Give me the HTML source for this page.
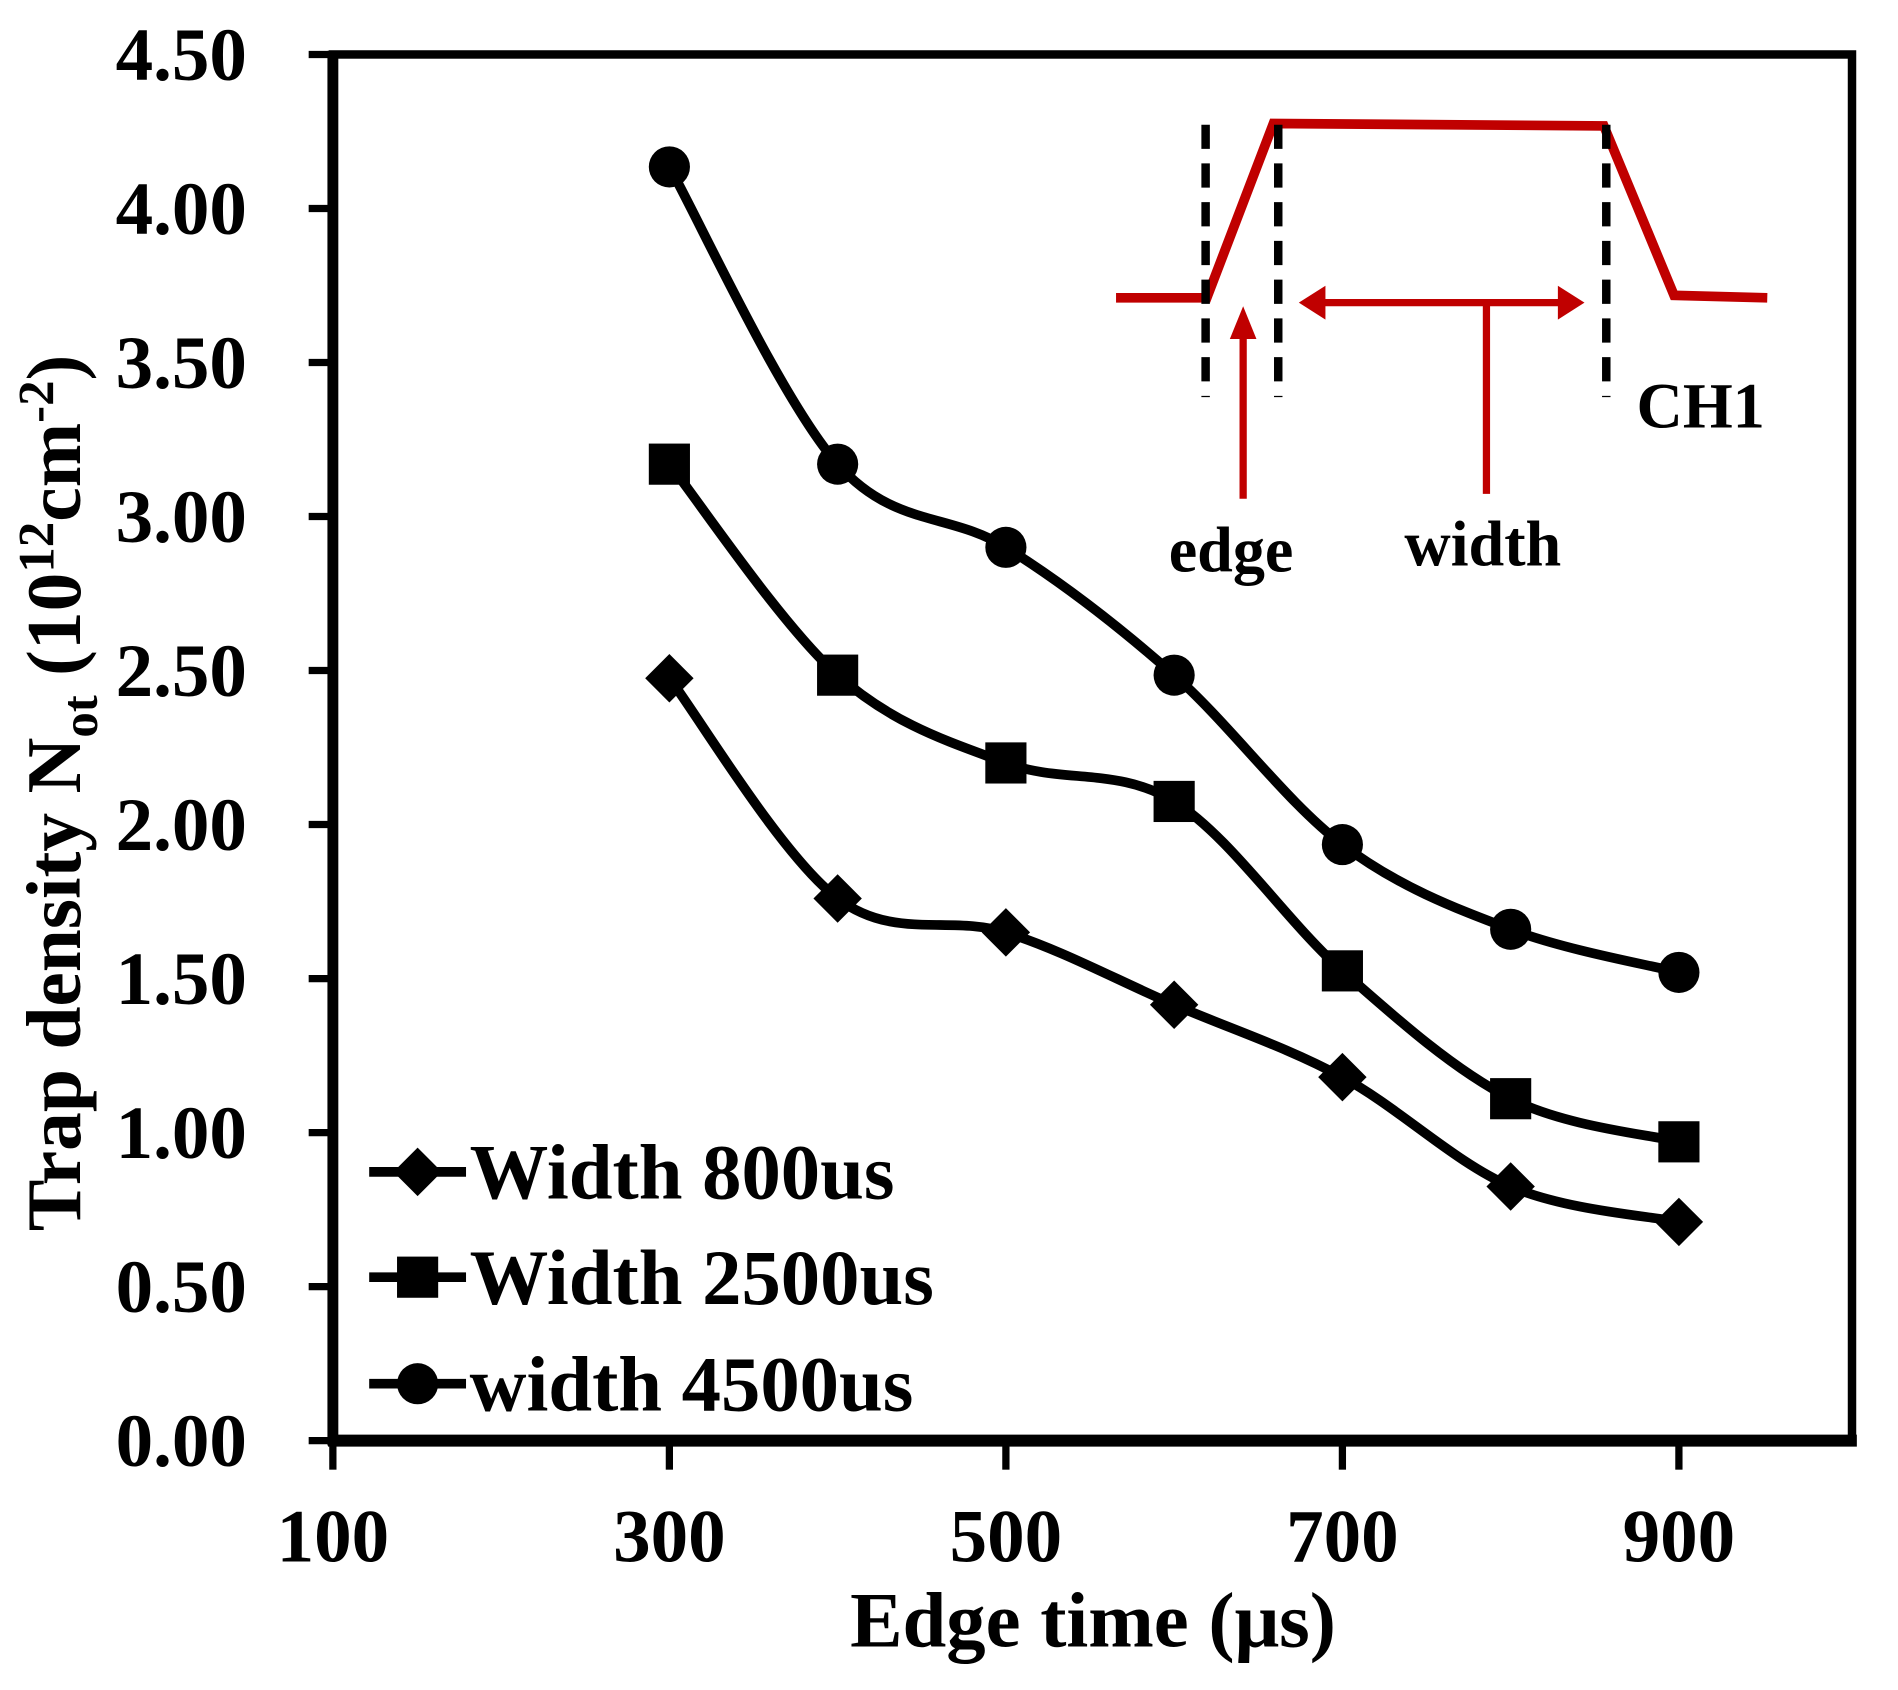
<!DOCTYPE html>
<html><head><meta charset="utf-8"><style>html,body{margin:0;padding:0;background:#fff}svg{display:block}text{font-family:"Liberation Serif",serif;font-weight:bold;fill:#000}</style></head>
<body>
<svg id="chart" width="1898" height="1690" viewBox="0 0 1568 1396" preserveAspectRatio="none" xmlns="http://www.w3.org/2000/svg">
<g id="inset">
<polyline points="922,246 997,246 1052,102 1325,104 1383,244 1460,246" fill="none" stroke="#c00000" stroke-width="8"/>
<line x1="996" y1="103" x2="996" y2="328" stroke="#000" stroke-width="7" stroke-dasharray="20,12"/>
<line x1="1056" y1="103" x2="1056" y2="328" stroke="#000" stroke-width="7" stroke-dasharray="20,12"/>
<line x1="1327" y1="103" x2="1327" y2="328" stroke="#000" stroke-width="7" stroke-dasharray="20,12"/>
<line x1="1090" y1="250" x2="1292" y2="250" stroke="#c00000" stroke-width="6"/>
<polygon points="1073,250 1095,236 1095,264" fill="#c00000"/>
<polygon points="1309,250 1287,236 1287,264" fill="#c00000"/>
<line x1="1228" y1="250" x2="1228" y2="408" stroke="#c00000" stroke-width="6"/>
<line x1="1027" y1="275" x2="1027" y2="412" stroke="#c00000" stroke-width="6"/>
<polygon points="1027,253 1016,280 1038,280" fill="#c00000"/>
<text x="1017" y="472" font-size="53" text-anchor="middle">edge</text>
<text x="1225" y="467" font-size="53" text-anchor="middle">width</text>
<text x="1352" y="353" font-size="53">CH1</text>
</g>
<g id="axes"></g>
<g id="series"></g>
<g id="legend"></g>
</svg>
<script>
const xValues = [300, 400, 500, 600, 700, 800, 900];
const series800 = [2.475, 1.76, 1.65, 1.415, 1.18, 0.825, 0.71];
const series2500 = [3.17, 2.485, 2.20, 2.075, 1.525, 1.11, 0.97];
const series4500 = [4.135, 3.17, 2.90, 2.485, 1.935, 1.66, 1.52];
const yTicks = [0, 0.5, 1, 1.5, 2, 2.5, 3, 3.5, 4, 4.5];
const yTickLabels = ["0.00","0.50","1.00","1.50","2.00","2.50","3.00","3.50","4.00","4.50"];
const xTicks = [100, 300, 500, 700, 900];
const xTickLabels = ["100","300","500","700","900"];
const seriesNames = ["Width 800us","Width 2500us","width 4500us"];

const NS = "http://www.w3.org/2000/svg";
const L = 275, R = 1530, T = 45, B = 1190;
function xs(v){ return L + (v - 100) / 800 * (1387 - L); }
function ys(v){ return B - v / 4.5 * (B - T); }
function mk(tag, attrs, parent){ const e = document.createElementNS(NS, tag); for (const k in attrs) e.setAttribute(k, attrs[k]); parent.appendChild(e); return e; }

const axes = document.getElementById('axes');
const frame = mk('rect', {x:L, y:T, width:R-L, height:B-T, fill:'none', stroke:'#000', 'stroke-width':7}, axes);


const lax = mk('line', {x1:L, y1:T-3, x2:L, y2:B+4, stroke:'#000', 'stroke-width':9}, axes);


const bax = mk('line', {x1:L-4, y1:B, x2:R+4, y2:B, stroke:'#000', 'stroke-width':10}, axes);


yTicks.forEach((v, i) => {
  const t = mk('line', {x1:L-20, y1:ys(v), x2:L, y2:ys(v), stroke:'#000', 'stroke-width':6}, axes);
  
  
  const tx = mk('text', {x:204, y:ys(v)+21, 'font-size':62, 'text-anchor':'end'}, axes);
  
  
  tx.textContent = yTickLabels[i];
});
xTicks.forEach((v, i) => {
  const t = mk('line', {x1:xs(v), y1:B, x2:xs(v), y2:B+24, stroke:'#000', 'stroke-width':6}, axes);
  
  
  const tx = mk('text', {x:xs(v), y:1290, 'font-size':62, 'text-anchor':'middle'}, axes);
  
  
  tx.textContent = xTickLabels[i];
});
const xt = mk('text', {x:903, y:1360, 'font-size':65, 'text-anchor':'middle'}, axes);


xt.textContent = 'Edge time (μs)';
const yt = mk('text', {x:0, y:0, 'font-size':64, 'text-anchor':'middle', transform:'translate(66,655) rotate(-90)'}, axes);


yt.innerHTML = 'Trap density N<tspan font-size="42" dy="14">ot</tspan><tspan dy="-14"> (10</tspan><tspan font-size="42" dy="-22">12</tspan><tspan dy="22">cm</tspan><tspan font-size="42" dy="-22">-2</tspan><tspan dy="22">)</tspan>';

function marker(type, cx, cy, parent){
  let m;
  if (type === 0) m = mk('polygon', {points:`${cx},${cy-20} ${cx+20},${cy} ${cx},${cy+20} ${cx-20},${cy}`, fill:'#000'}, parent);
  else if (type === 1) m = mk('rect', {x:cx-17, y:cy-17, width:34, height:34, fill:'#000'}, parent);
  else m = mk('circle', {cx:cx, cy:cy, r:17, fill:'#000'}, parent);
  return m;
}
function smooth(pts){
  let d = `M${pts[0][0]},${pts[0][1]}`;
  for (let i = 0; i < pts.length - 1; i++){
    const p0 = pts[Math.max(0,i-1)], p1 = pts[i], p2 = pts[i+1], p3 = pts[Math.min(pts.length-1,i+2)];
    const c1 = [p1[0]+(p2[0]-p0[0])/6, p1[1]+(p2[1]-p0[1])/6];
    const c2 = [p2[0]-(p3[0]-p1[0])/6, p2[1]-(p3[1]-p1[1])/6];
    d += ` C${c1[0]},${c1[1]} ${c2[0]},${c2[1]} ${p2[0]},${p2[1]}`;
  }
  return d;
}
const sg = document.getElementById('series');
[series800, series2500, series4500].forEach((s, k) => {
  const pts = s.map((v, i) => [xs(xValues[i]), ys(v)]);
  const p = mk('path', {d:smooth(pts), fill:'none', stroke:'#000', 'stroke-width':8}, sg);
  
  
  pts.forEach(pt => {
    const m = marker(k, pt[0], pt[1], sg);
    
    
  });
});
const lg = document.getElementById('legend');
[968, 1055, 1143].forEach((y, k) => {
  const l = mk('line', {x1:305, y1:y, x2:385, y2:y, stroke:'#000', 'stroke-width':8}, lg);
  
  
  const m = marker(k, 345, y, lg);
  
  
  const t = mk('text', {x:388, y:y+22, 'font-size':65}, lg);
  
  
  t.textContent = seriesNames[k];
});
</script>
</body></html>
